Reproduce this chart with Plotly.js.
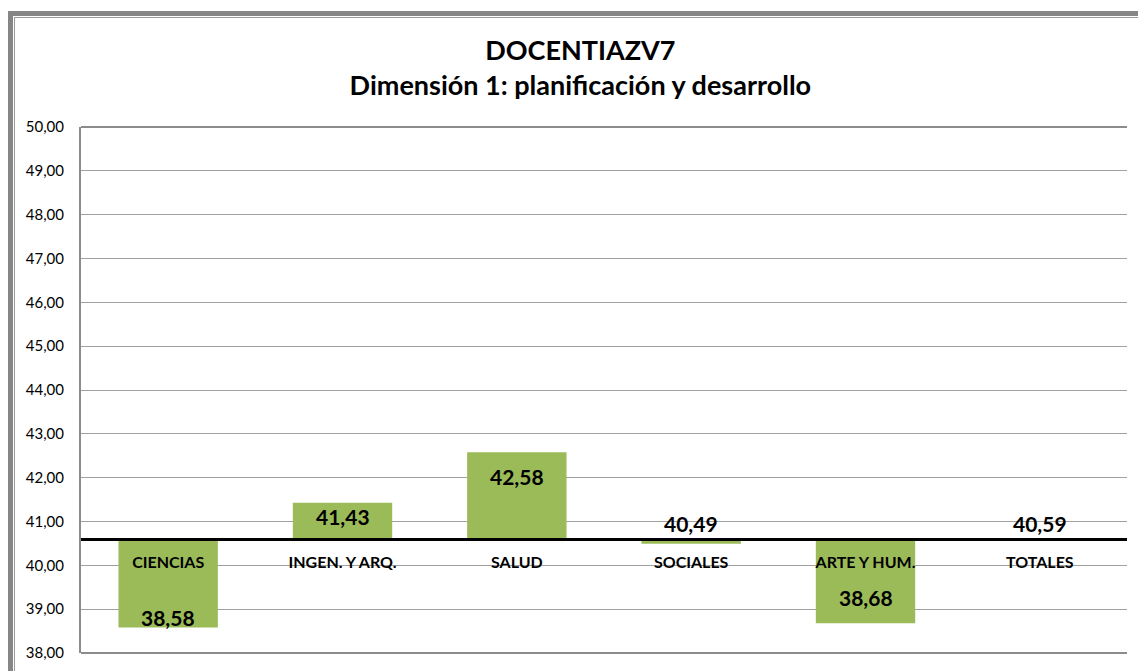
<!DOCTYPE html>
<html>
<head>
<meta charset="utf-8">
<script src="https://cdn.plot.ly/plotly-3.0.1.min.js"></script>
<style>
  html, body { margin: 0; padding: 0; background: #ffffff; overflow: hidden; }
  #wrap { position: relative; width: 1138px; height: 671px; overflow: hidden; }
  #frame { position: absolute; left: 8px; top: 11px; width: 1200px; height: 760px;
           border: 5px solid #868686; box-sizing: border-box; }
  #frame2 { position: absolute; left: 1px; top: 1px; right: 0; bottom: 0; border-left: 1px solid #9a9a9a; border-top: 1px solid #9a9a9a; }
  #chart { position: absolute; left: 0; top: 0; width: 1138px; height: 671px; }
</style>
</head>
<body>
<div id="wrap">
  <div id="frame"><div id="frame2"></div></div>
  <div id="chart"></div>
</div>
<script>
// ---- data ----
const categories = ["CIENCIAS", "INGEN. Y ARQ.", "SALUD", "SOCIALES", "ARTE Y HUM.", "TOTALES"];
const values = [38.58, 41.43, 42.58, 40.49, 38.68, 40.59];
const totalValue = 40.59;
const yTicks = [38, 39, 40, 41, 42, 43, 44, 45, 46, 47, 48, 49, 50];

// ---- label placement (pixel offsets, style only) ----
const labelShift = [10, -14, -24, 20, 26, 16];

const yMin = yTicks[0], yMax = yTicks[yTicks.length - 1];
const fmt = v => v.toFixed(2).replace('.', ',');

const trace = {
  type: 'bar',
  x: categories,
  y: values.map(v => v - totalValue),
  base: totalValue,
  marker: { color: '#9BBB59', line: { width: 0 } },
  hoverinfo: 'skip'
};

const annotations = categories.map((c, i) => ({
  x: c, y: values[i], xref: 'x', yref: 'y',
  text: '<b>' + fmt(values[i]) + '</b>',
  showarrow: false, yanchor: 'middle', yshift: labelShift[i],
  font: { family: 'Lato, "Open Sans", sans-serif', size: 21, color: '#000000' }
}));

const layout = {
  width: 1138, height: 671,
  margin: { l: 81, r: 11, t: 127, b: 18, pad: 0 },
  paper_bgcolor: 'rgba(0,0,0,0)',
  plot_bgcolor: 'rgba(0,0,0,0)',
  separators: ',.',
  showlegend: false,
  bargap: 0.43,
  title: {
    text: '<b>DOCENTIAZV7<br>Dimensión 1: planificación y desarrollo</b>',
    x: 0.51, xanchor: 'center', y: 0.91, yanchor: 'top',
    font: { family: 'Lato, "Open Sans", sans-serif', size: 27, color: '#000000' }
  },
  xaxis: {
    type: 'category',
    anchor: 'free',
    position: (totalValue - yMin) / (yMax - yMin),
    showline: true, linecolor: '#000000', linewidth: 3,
    ticks: '', showgrid: false, zeroline: false,
    ticklabelstandoff: 7,
    tickfont: { family: 'Lato, "Open Sans", sans-serif', size: 16, color: '#000000', weight: 'bold' }
  },
  yaxis: {
    range: [yMin, yMax],
    tickvals: yTicks,
    tickformat: '.2f',
    showgrid: true, gridcolor: '#a0a0a0', gridwidth: 1,
    zeroline: false,
    showline: true, linecolor: '#8c8c8c', linewidth: 2,
    ticks: '', ticklabelstandoff: 12,
    tickfont: { family: 'Lato, "Open Sans", sans-serif', size: 15, color: '#000000' }
  },
  shapes: [
    { type: 'line', xref: 'paper', yref: 'paper', x0: 0, x1: 1, y0: 1, y1: 1, line: { color: '#8c8c8c', width: 2 } },
    { type: 'line', xref: 'paper', yref: 'paper', x0: 0, x1: 1, y0: 0, y1: 0, line: { color: '#8c8c8c', width: 2 } }
  ],
  annotations: annotations
};

Plotly.newPlot('chart', [trace], layout, { staticPlot: true, displayModeBar: false });
</script>
</body>
</html>
